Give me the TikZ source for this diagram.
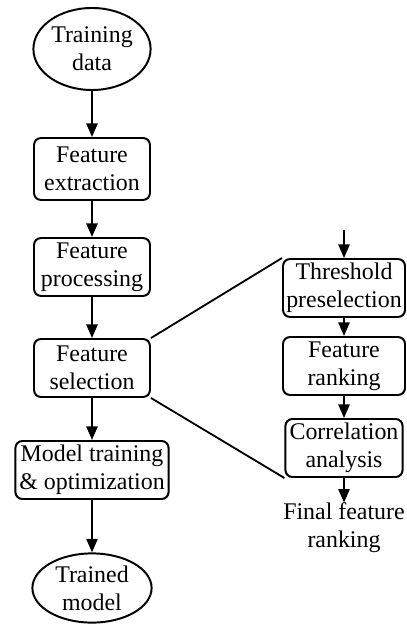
\documentclass[tikz,border=0pt]{standalone}
\usepackage{fontspec}
\setmainfont{Liberation Serif}
\usepackage{tikz}
\usetikzlibrary{shapes,calc,positioning,arrows.meta,shapes.geometric}

\begin{document}
\begin{tikzpicture}[
                font=\fontsize{17}{20}\selectfont,
                term/.style={ellipse, draw, line width=1.4pt, inner sep=0pt, align=center},
                stage/.style={rectangle, draw, line width=1.4pt, rounded corners=5pt, inner sep=1pt, align=center, minimum height=1.45cm},
                flow/.style={-{Triangle[length=0.34cm, width=0.28cm]}, line width=1.4pt},
                link/.style={line width=1.3pt}
            ]
                \useasboundingbox (0,0) rectangle (10.15,-15.6);

                % main pipeline
                \node[term, minimum width=2.93cm, minimum height=2.05cm] (train) at (2.3,-1.225) {Training\\data};
                \node[stage, minimum width=2.9cm, minimum height=1.55cm] (ext) at (2.3,-4.225) {Feature\\extraction};
                \node[stage, minimum width=2.9cm] (proc) at (2.3,-6.675) {Feature\\processing};
                \node[stage, minimum width=2.9cm] (sel) at (2.3,-9.2) {Feature\\selection};
                \node[stage, minimum width=3.83cm] (model) at (2.3,-11.75) {Model training\\\& optimization};
                \node[term, minimum width=2.98cm, minimum height=1.73cm] (trained) at (2.3,-14.7) {Trained\\model};

                \draw[flow] (train) -- (ext);
                \draw[flow] (ext) -- (proc);
                \draw[flow] (proc) -- (sel);
                \draw[flow] (sel) -- (model);
                \draw[flow] (model) -- (trained);

                % selection detail
                \coordinate (in) at (8.6,-5.75);
                \node[stage, minimum width=3.05cm] (thr) at (8.6,-7.2) {Threshold\\preselection};
                \node[stage, minimum width=3.05cm] (rank) at (8.6,-9.15) {Feature\\ranking};
                \node[stage, minimum width=2.93cm] (corr) at (8.6,-11.2) {Correlation\\analysis};
                \node[align=center, inner sep=0pt] (final) at (8.6,-13.2) {Final feature\\ranking};

                \draw[flow] (in) -- (thr);
                \draw[flow] (thr) -- (rank);
                \draw[flow] (rank) -- (corr);
                \draw[flow] (corr) -- (final);

                \draw[link] (sel.north east) -- (thr.north west);
                \draw[link] (sel.south east) -- (corr.south west);
            \end{tikzpicture}
\end{document}
